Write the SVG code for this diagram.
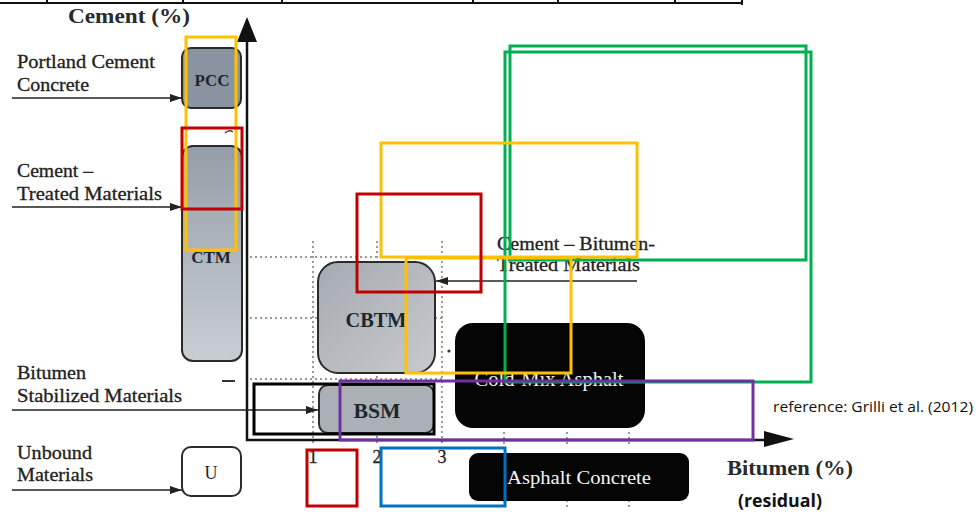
<svg xmlns="http://www.w3.org/2000/svg" width="979" height="515" viewBox="0 0 979 515">
<defs>
<style>
.lbl{font-family:"Liberation Serif","Times New Roman",serif;font-size:18px;fill:#222;stroke:#222;stroke-width:0.3}
.bt{font-family:"Liberation Serif","Times New Roman",serif;font-weight:bold;fill:#2a2a2a}
.box{stroke:#2b2b2b;stroke-width:2}
.wt{font-family:"Liberation Serif","Times New Roman",serif;fill:#f4f4f4;text-anchor:middle}
.btxt{font-family:"Liberation Serif","Times New Roman",serif;font-weight:bold;fill:#1c262c;text-anchor:middle}
.dot{stroke:#9a9a9a;stroke-width:2;stroke-dasharray:2 3;fill:none}
.conn{stroke:#222;stroke-width:1.6;fill:none}
.ov{fill:none;stroke-width:3}
.cal{font-family:"Open Sans","Liberation Sans",sans-serif;fill:#111}
</style>
<marker id="ah" viewBox="0 0 12 8" refX="12" refY="4" markerWidth="12" markerHeight="8" markerUnits="userSpaceOnUse" orient="auto">
<path d="M0,0 L12,4 L0,8 Z" fill="#222"/>
</marker>
<linearGradient id="gCTM" x1="0" y1="0" x2="0" y2="1">
<stop offset="0" stop-color="#959ea8"/><stop offset="1" stop-color="#c9ced3"/>
</linearGradient>
<linearGradient id="gCB" x1="0" y1="0" x2="1" y2="1">
<stop offset="0" stop-color="#a6abb1"/><stop offset="1" stop-color="#c6cace"/>
</linearGradient>
</defs>
<rect width="979" height="515" fill="#fff"/>

<!-- top border line -->
<g id="topline" stroke="#111" stroke-width="2">
<line x1="0" y1="3" x2="742" y2="3"/>
<line x1="47" y1="0" x2="47" y2="3"/><line x1="183" y1="0" x2="183" y2="4"/><line x1="282" y1="0" x2="282" y2="4"/>
<line x1="473" y1="0" x2="473" y2="4"/><line x1="558" y1="0" x2="558" y2="4"/><line x1="675" y1="0" x2="675" y2="4"/><line x1="742" y1="0" x2="742" y2="5"/>
</g>

<!-- grid -->
<g id="grid">
<line class="dot" x1="313" y1="241" x2="313" y2="446"/>
<line class="dot" x1="377" y1="241" x2="377" y2="446"/>
<line class="dot" x1="442" y1="241" x2="442" y2="446"/>
<line class="dot" x1="250" y1="257" x2="445" y2="257"/>
<line class="dot" x1="250" y1="318" x2="445" y2="318"/>
<line class="dot" x1="250" y1="379" x2="445" y2="379"/>
<line class="dot" x1="504" y1="432" x2="504" y2="446"/>
<line class="dot" x1="567" y1="432" x2="567" y2="446"/>
<line class="dot" x1="629" y1="432" x2="629" y2="446"/>
<line class="dot" x1="504" y1="500" x2="504" y2="510"/>
<line class="dot" x1="567" y1="500" x2="567" y2="510"/>
<line class="dot" x1="629" y1="500" x2="629" y2="510"/>
<circle cx="449" cy="351" r="1.6" fill="#333"/>
</g>

<!-- axes -->
<g id="axes">
<path d="M247,40 L247,440 L770,440" stroke="#111" stroke-width="2.5" fill="none"/>
<path d="M247,17 L257,42 L237,42 Z" fill="#111"/>
<path d="M794,439 L764,431 L764,447 Z" fill="#111"/>
<line x1="222" y1="381" x2="235" y2="381" stroke="#333" stroke-width="2"/>
<path d="M225,133 Q229,129 233,132" stroke="#444" stroke-width="1.5" fill="none"/>
<text class="bt" x="68" y="23" font-size="21" textLength="122" lengthAdjust="spacingAndGlyphs">Cement (%)</text>
<text class="bt" x="727" y="475" font-size="21" textLength="126" lengthAdjust="spacingAndGlyphs">Bitumen (%)</text>
<text class="lbl" x="313" y="463" text-anchor="middle" font-size="17">1</text>
<text class="lbl" x="377" y="463" text-anchor="middle" font-size="17">2</text>
<text class="lbl" x="442" y="463" text-anchor="middle" font-size="17">3</text>
</g>

<!-- nodes -->
<g id="PCC">
<rect class="box" x="182" y="48" width="59" height="60" rx="9" fill="#8a94a1"/>
<text class="btxt" x="212" y="86" font-size="17">PCC</text>
</g>
<g id="CTM">
<rect class="box" x="182" y="146" width="60" height="215" rx="11" fill="url(#gCTM)"/>
<text class="btxt" x="211" y="263" font-size="17">CTM</text>
</g>
<g id="CBTM">
<rect class="box" x="318" y="262" width="117" height="111" rx="20" fill="url(#gCB)"/>
<text class="btxt" x="376" y="327" font-size="21" textLength="61" lengthAdjust="spacingAndGlyphs">CBTM</text>
</g>
<g id="BSM">
<rect class="box" x="319" y="385" width="115" height="48" rx="9" fill="#aab0b5"/>
<text class="btxt" x="377" y="418" font-size="21" textLength="47" lengthAdjust="spacingAndGlyphs">BSM</text>
</g>
<g id="U">
<rect class="box" x="182" y="447" width="59" height="49" rx="9" fill="#fff"/>
<text class="btxt" x="211" y="479" font-size="18" style="font-weight:normal">U</text>
</g>
<g id="CMA">
<rect x="455" y="323" width="190" height="105" rx="18" fill="#050505"/>
<text class="wt" x="549" y="386" font-size="20" textLength="149" lengthAdjust="spacingAndGlyphs">Cold-Mix Asphalt</text>
</g>
<g id="AC">
<rect x="469" y="453" width="220" height="48" rx="9" fill="#050505"/>
<text class="wt" x="579" y="484" font-size="18" textLength="144" lengthAdjust="spacingAndGlyphs">Asphalt Concrete</text>
</g>

<!-- labels -->
<g id="labels">
<text class="lbl" x="17" y="68" textLength="138" lengthAdjust="spacingAndGlyphs">Portland Cement</text>
<text class="lbl" x="17" y="91" textLength="72" lengthAdjust="spacingAndGlyphs">Concrete</text>
<text class="lbl" x="17" y="177" textLength="76" lengthAdjust="spacingAndGlyphs">Cement –</text>
<text class="lbl" x="17" y="200" textLength="145" lengthAdjust="spacingAndGlyphs">Treated Materials</text>
<text class="lbl" x="17" y="379" textLength="69" lengthAdjust="spacingAndGlyphs">Bitumen</text>
<text class="lbl" x="17" y="402" textLength="165" lengthAdjust="spacingAndGlyphs">Stabilized Materials</text>
<text class="lbl" x="17" y="459" textLength="75" lengthAdjust="spacingAndGlyphs">Unbound</text>
<text class="lbl" x="17" y="481" textLength="76" lengthAdjust="spacingAndGlyphs">Materials</text>
<text class="lbl" x="497" y="250" textLength="158" lengthAdjust="spacingAndGlyphs">Cement – Bitumen-</text>
<text class="lbl" x="497" y="271" textLength="143" lengthAdjust="spacingAndGlyphs">Treated Materials</text>
<text class="cal" x="773" y="412" font-size="14.5" textLength="200" lengthAdjust="spacingAndGlyphs">reference: Grilli et al. (2012)</text>
<text class="cal" x="738" y="507" font-size="17" font-weight="bold" textLength="84" lengthAdjust="spacingAndGlyphs">(residual)</text>
</g>

<!-- connectors -->
<g id="connectors">
<line class="conn" x1="12" y1="98" x2="182" y2="98" marker-end="url(#ah)"/>
<line class="conn" x1="12" y1="207" x2="182" y2="207" marker-end="url(#ah)"/>
<line class="conn" x1="12" y1="410" x2="318" y2="410" marker-end="url(#ah)"/>
<line class="conn" x1="12" y1="490" x2="182" y2="490" marker-end="url(#ah)"/>
<line class="conn" x1="637" y1="281" x2="436" y2="281" marker-end="url(#ah)"/>
</g>

<!-- highlight overlays -->
<g id="overlays">
<rect class="ov" stroke="#ffc000" x="186" y="37" width="50" height="213"/>
<rect class="ov" stroke="#c00000" x="182" y="128" width="60" height="81"/>
<rect class="ov" stroke="#00b050" x="510" y="46" width="296" height="214"/>
<rect class="ov" stroke="#00b050" x="505" y="52" width="306" height="330"/>
<rect class="ov" stroke="#ffc000" x="381" y="143" width="256" height="114"/>
<rect class="ov" stroke="#ffc000" x="406" y="258" width="165" height="115"/>
<rect class="ov" stroke="#c00000" x="357" y="194" width="124" height="98"/>
<rect class="ov" stroke="#000" x="254" y="384" width="180" height="50"/>
<rect class="ov" stroke="#7030a0" x="340" y="381" width="413" height="59"/>
<rect class="ov" stroke="#c00000" x="307" y="450" width="50" height="56"/>
<rect class="ov" stroke="#0070c0" x="381" y="448" width="124" height="58"/>
</g>
</svg>
